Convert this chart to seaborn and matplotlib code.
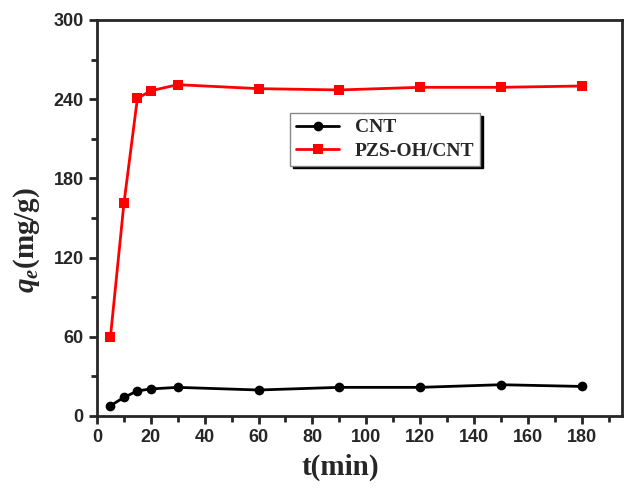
import matplotlib
matplotlib.use("Agg")
import matplotlib.pyplot as plt
import seaborn as sns
import pandas as pd
from matplotlib.ticker import MultipleLocator

t = [5, 10, 15, 20, 30, 60, 90, 120, 150, 180]
cnt = [7.8, 14.1, 19.0, 20.5, 21.7, 19.7, 21.7, 21.7, 23.7, 22.4]
pzs = [60, 161, 240.6, 246.4, 251, 248, 247, 249, 249, 250]
series = ["CNT", "PZS-OH/CNT"]

df = pd.concat([
    pd.DataFrame({"t": t, "q": cnt, "s": series[0]}),
    pd.DataFrame({"t": t, "q": pzs, "s": series[1]}),
])

sns.set_style("ticks")
plt.rcParams["mathtext.fontset"] = "custom"
plt.rcParams["mathtext.it"] = "Liberation Serif:italic:bold"
plt.rcParams["mathtext.rm"] = "Liberation Serif:bold"

fig = plt.figure(figsize=(6.24, 4.88), dpi=100)
ax = fig.add_axes([97/624, 72/488, 525/624, 396/488])

sns.lineplot(data=df, x="t", y="q", hue="s", style="s",
             palette={"CNT": "black", "PZS-OH/CNT": "red"},
             markers={"CNT": "o", "PZS-OH/CNT": "s"}, dashes=False,
             markersize=7, linewidth=2, markeredgewidth=0, ax=ax)

ax.set_xlim(0, 195)
ax.set_ylim(0, 300)
ax.xaxis.set_major_locator(MultipleLocator(20))
ax.xaxis.set_minor_locator(MultipleLocator(10))
ax.yaxis.set_major_locator(MultipleLocator(60))
ax.yaxis.set_minor_locator(MultipleLocator(30))
for s in ax.spines.values():
    s.set_linewidth(2)
ax.tick_params(which="major", direction="out", length=6, width=2)
ax.tick_params(which="minor", direction="out", length=4, width=2)
for lab in ax.get_xticklabels() + ax.get_yticklabels():
    lab.set_fontfamily("Liberation Sans")
    lab.set_fontweight("bold")
    lab.set_fontsize(13)

ax.set_xlabel("t(min)", fontfamily="Liberation Serif", fontweight="bold", fontsize=21)
ax.xaxis.set_label_coords((340 - 97) / 525, (416 - 454) / 396)
ax.set_ylabel(r"$q_{e}$(mg/g)", fontfamily="Liberation Serif", fontweight="bold", fontsize=21)
ax.yaxis.set_label_coords((42 - 97) / 525, (416 - 240) / 396)

leg = ax.legend(loc="upper left", bbox_to_anchor=(0.35, 0.79), frameon=True, fancybox=False,
                shadow={"color": "black", "alpha": 1}, edgecolor="#888888", framealpha=1,
                prop={"family": "Liberation Serif", "weight": "bold", "size": 14},
                handlelength=2.2, borderpad=0.3, labelspacing=0.3)
leg.get_frame().set_linewidth(1)

fig.savefig("out.png", dpi=100)
